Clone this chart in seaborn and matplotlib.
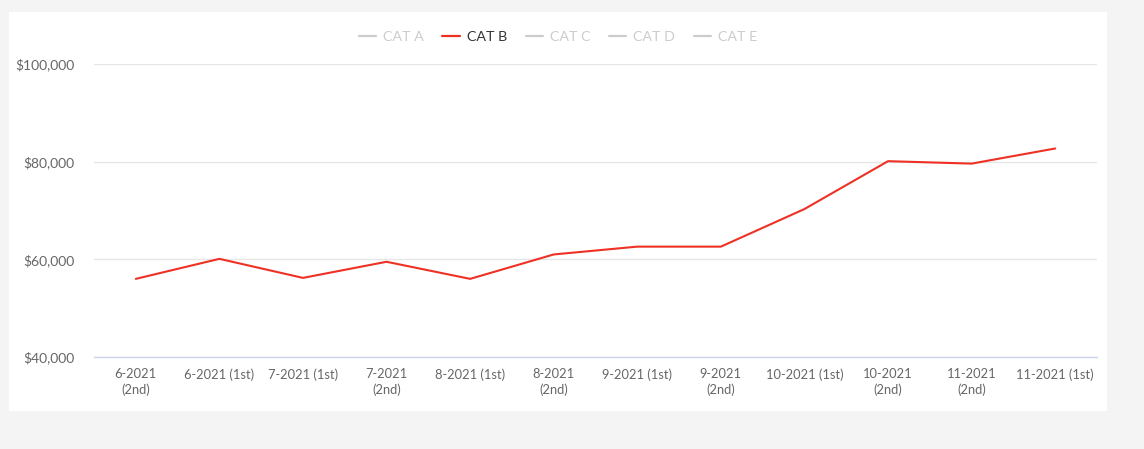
import matplotlib
matplotlib.use("Agg")
import matplotlib.pyplot as plt
from matplotlib.patches import Rectangle
from matplotlib.lines import Line2D
from matplotlib.ticker import FuncFormatter
import seaborn as sns
import pandas as pd

categories = ["6-2021 (2nd)", "6-2021 (1st)", "7-2021 (1st)", "7-2021 (2nd)",
              "8-2021 (1st)", "8-2021 (2nd)", "9-2021 (1st)", "9-2021 (2nd)",
              "10-2021 (1st)", "10-2021 (2nd)", "11-2021 (2nd)", "11-2021 (1st)"]
cat_b = [56000, 60100, 56200, 59500, 56000, 61000, 62600, 62600, 70300, 80100, 79600, 82700]
series_names = ["CAT A", "CAT B", "CAT C", "CAT D", "CAT E"]
visible = ["CAT B"]
y_ticks = [40000, 60000, 80000, 100000]

sns.set_theme(style="white")
plt.rcParams["font.family"] = ["Lato", "DejaVu Sans"]

fig = plt.figure(figsize=(11.44, 4.49), dpi=100)
fig.patch.set_facecolor("#f4f4f4")
fig.add_artist(Rectangle((9 / 1144, 1 - 411 / 449), 1098 / 1144, 399 / 449,
                         transform=fig.transFigure, facecolor="white",
                         edgecolor="none", zorder=0))

ax = fig.add_axes([94 / 1144, 1 - 357 / 449, (1097 - 94) / 1144, (357 - 64) / 449])
ax.set_facecolor("none")

df = pd.DataFrame({"x": range(len(categories)), "value": cat_b})
sns.lineplot(data=df, x="x", y="value", ax=ax, color="#ee3124", linewidth=1.5)

ax.set_xlim(-0.5, len(categories) - 0.5)
ax.set_ylim(40000, 100000)
ax.set_yticks(y_ticks)
ax.yaxis.set_major_formatter(FuncFormatter(lambda v, p: f"${v:,.0f}"))
ax.set_xticks(range(len(categories)))
labels = [c.replace(" (2nd)", "\n(2nd)") for c in categories]
ax.set_xticklabels(labels, fontsize=9.3, color="#666666", va="top", linespacing=1.3)
ax.tick_params(axis="x", length=0, pad=8)
ax.tick_params(axis="y", length=0, pad=14, labelsize=10, labelcolor="#666666")
ax.set_xlabel("")
ax.set_ylabel("")
ax.grid(axis="y", color="#e6e6e6", linewidth=1)
ax.grid(axis="x", visible=False)
for s in ["top", "right", "left"]:
    ax.spines[s].set_visible(False)
ax.spines["bottom"].set_color("#ccd6eb")
ax.spines["bottom"].set_linewidth(1)

handles = []
for name in series_names:
    col = "#ee3124" if name in visible else "#cccccc"
    handles.append(Line2D([0], [0], color=col, linewidth=1.6))
leg = fig.legend(handles, series_names, loc="center", bbox_to_anchor=(558 / 1144, 1 - 37 / 449),
                 ncol=5, frameon=False, fontsize=10.3, handlelength=1.2, handletextpad=0.5,
                 columnspacing=1.3)
for t, name in zip(leg.get_texts(), series_names):
    t.set_color("#333333" if name in visible else "#cccccc")

fig.savefig("out.png", dpi=100, facecolor=fig.get_facecolor())
